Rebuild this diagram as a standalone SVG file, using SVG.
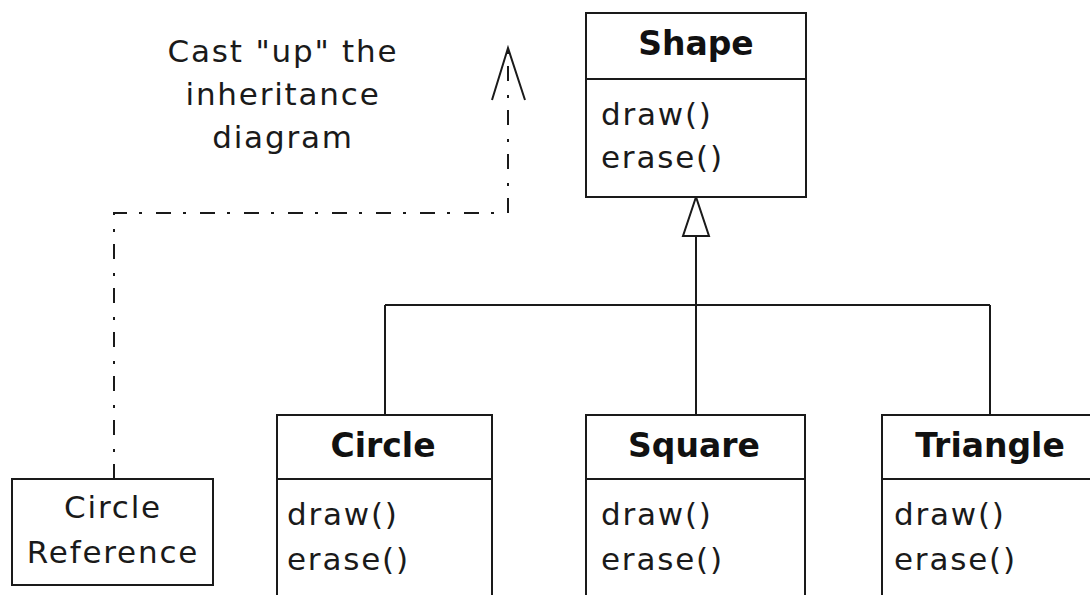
<svg xmlns="http://www.w3.org/2000/svg" width="1090" height="595" viewBox="0 0 1090 595">
<defs>
<style>
.box{fill:#fff;stroke:#1a1a1a;stroke-width:2}
.ln{fill:none;stroke:#1a1a1a;stroke-width:2}
.dd{fill:none;stroke:#1a1a1a;stroke-width:2;stroke-dasharray:15 12 3 14}
.t{font-family:"DejaVu Sans","Liberation Sans",sans-serif;font-size:31px;letter-spacing:1.8px;fill:#1a1a1a}
.b{font-family:"DejaVu Sans","Liberation Sans",sans-serif;font-size:33px;font-weight:bold;fill:#111}
.c{text-anchor:middle}
</style>
</defs>
<rect width="1090" height="595" fill="#fff"/>
<g id="connectors">
<path class="ln" d="M696 236 V305 M385 305 H990 M385 305 V415 M696 305 V415 M990 305 V415"/>
<polygon class="ln" points="696,197 683,236 709,236"/>
<path class="dd" d="M114 479 V213 H508 V50"/>
<path class="ln" d="M492 100 L508 48 L525 100"/>
</g>
<g id="note">
<text class="t c" x="283" y="62">Cast "up" the</text>
<text class="t c" x="283" y="105">inheritance</text>
<text class="t c" x="283" y="148">diagram</text>
</g>
<g id="shape">
<rect class="box" x="586" y="13" width="220" height="184"/>
<line class="ln" x1="586" y1="79" x2="806" y2="79"/>
<text class="b c" x="696" y="55">Shape</text>
<text class="t" x="601" y="125">draw()</text>
<text class="t" x="601" y="168">erase()</text>
</g>
<g id="circle">
<rect class="box" x="277" y="415" width="215" height="200"/>
<line class="ln" x1="277" y1="479" x2="492" y2="479"/>
<text class="b c" x="383" y="457">Circle</text>
<text class="t" x="287" y="525">draw()</text>
<text class="t" x="287" y="570">erase()</text>
</g>
<g id="square">
<rect class="box" x="586" y="415" width="219" height="200"/>
<line class="ln" x1="586" y1="479" x2="805" y2="479"/>
<text class="b c" x="694" y="457">Square</text>
<text class="t" x="601" y="525">draw()</text>
<text class="t" x="601" y="570">erase()</text>
</g>
<g id="triangle">
<rect class="box" x="882" y="415" width="220" height="200"/>
<line class="ln" x1="882" y1="479" x2="1102" y2="479"/>
<text class="b c" x="990" y="457">Triangle</text>
<text class="t" x="894" y="525">draw()</text>
<text class="t" x="894" y="570">erase()</text>
</g>
<g id="circle-reference">
<rect class="box" x="12" y="479" width="201" height="106"/>
<text class="t c" x="113" y="518">Circle</text>
<text class="t c" x="113" y="563">Reference</text>
</g>
</svg>
